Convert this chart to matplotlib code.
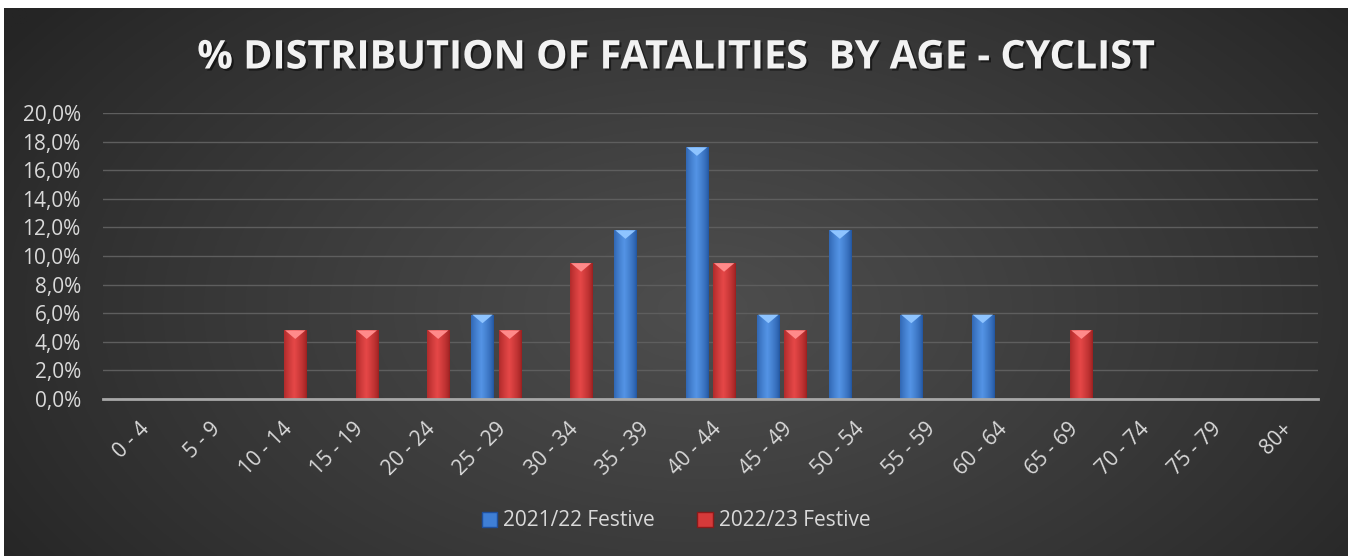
import numpy as np
import matplotlib
matplotlib.use("Agg")
import matplotlib.pyplot as plt
import matplotlib.patheffects as pe
from matplotlib.patches import Polygon, Patch
from matplotlib.ticker import FuncFormatter, MultipleLocator

age_groups = ["0 - 4", "5 - 9", "10 - 14", "15 - 19", "20 - 24", "25 - 29",
              "30 - 34", "35 - 39", "40 - 44", "45 - 49", "50 - 54", "55 - 59",
              "60 - 64", "65 - 69", "70 - 74", "75 - 79", "80+"]
festive_2122 = [0, 0, 0, 0, 0, 5.9, 0, 11.8, 17.6, 5.9, 11.8, 5.9, 5.9, 0, 0, 0, 0]
festive_2223 = [0, 0, 4.8, 4.8, 4.8, 4.8, 9.5, 0, 9.5, 4.8, 0, 0, 0, 4.8, 0, 0, 0]

text_col = "#d9d9d9"
fig = plt.figure(figsize=(13.52, 5.56), dpi=100, facecolor="white")

# dark radial background panel
bg = fig.add_axes([4 / 1352, 0, 1 - 8 / 1352, 1 - 8 / 556])
bg.set_axis_off()
yy, xx = np.mgrid[0:1:300j, 0:1:700j]
r = np.sqrt(((xx - 0.52) / 0.62) ** 2 + ((yy - 0.45) / 0.9) ** 2)
shade = np.clip(1 - r, 0, 1)
c0 = np.array([0x25, 0x25, 0x25]) / 255
c1 = np.array([0x4e, 0x4e, 0x4e]) / 255
img = c0 + (c1 - c0) * shade[..., None] ** 0.9
bg.imshow(img, aspect="auto", extent=[0, 1, 0, 1], origin="lower")
bg.set_xlim(0, 1)
bg.set_ylim(0, 1)

ax = fig.add_axes([103 / 1352, 1 - 399 / 556, 1215 / 1352, 286 / 556])
ax.patch.set_alpha(0)
x = np.arange(len(age_groups))
w = 0.31
ax.set_xlim(-0.5, len(age_groups) - 0.5)
ax.set_ylim(0, 20)


def shaded_bars(xpos, vals, dark, mid, light, top):
    bars = ax.bar(xpos, vals, width=w, color=mid, zorder=3)
    grad = np.linspace(0, 1, 64)
    prof = np.clip(1 - np.abs(grad - 0.45) / 0.55, 0, 1) ** 0.7
    dark, light = np.array(dark), np.array(light)
    strip = dark + (light - dark) * prof[:, None]
    for b in bars:
        h = b.get_height()
        if h <= 0:
            continue
        x0, bw = b.get_x(), b.get_width()
        im = ax.imshow(strip[None, :, :], aspect="auto",
                       extent=[x0, x0 + bw, 0, h], zorder=4)
        im.set_clip_path(b)
        th = 0.6
        tri = Polygon([(x0 + 0.04 * bw, h), (x0 + 0.96 * bw, h),
                       (x0 + bw / 2, h - th)], closed=True,
                      facecolor=top, edgecolor="none", zorder=5)
        ax.add_patch(tri)
    return bars


shaded_bars(x - 0.19, festive_2122, (0.13, 0.33, 0.62), "#3f7fd6",
            (0.33, 0.58, 0.90), "#8ec4ff")
shaded_bars(x + 0.19, festive_2223, (0.60, 0.12, 0.12), "#d63a3a",
            (0.90, 0.28, 0.28), "#ff8a8a")

ax.yaxis.set_major_locator(MultipleLocator(2))
ax.yaxis.set_major_formatter(FuncFormatter(lambda v, p: f"{v:.1f}%".replace(".", ",")))
ax.grid(axis="y", color="#5e5e5e", lw=1, zorder=0)
ax.set_axisbelow(True)
for s in ["top", "right", "left"]:
    ax.spines[s].set_visible(False)
ax.spines["bottom"].set_color("#a8a8a8")
ax.spines["bottom"].set_linewidth(2)
ax.spines["bottom"].set_zorder(6)
ax.tick_params(axis="both", length=0, colors=text_col)
ax.tick_params(axis="y", pad=16)
ax.set_xticks(x)
ax.set_xticklabels(age_groups, rotation=45, ha="right", va="top",
                   rotation_mode="anchor")
ax.tick_params(axis="x", pad=14)
for lab in ax.get_xticklabels() + ax.get_yticklabels():
    lab.set_family("Open Sans")
    lab.set_fontsize(15)

fig.text(0.5, 1 - 58 / 556, "% DISTRIBUTION OF FATALITIES  BY AGE - CYCLIST",
         ha="center", va="center", color="#f2f2f2", fontsize=28.5,
         fontweight="bold", family="Open Sans",
         path_effects=[pe.withSimplePatchShadow(offset=(1.5, -1.5),
                                                shadow_rgbFace="black", alpha=0.5)])

handles = [Patch(facecolor="#3f7fd6", edgecolor="#1f4f9c", label="2021/22 Festive"),
           Patch(facecolor="#d63a3a", edgecolor="#8b1a1a", label="2022/23 Festive")]
fig.legend(handles=handles, loc="center", bbox_to_anchor=(0.5, 1 - 521 / 556),
           ncol=2, frameon=False, handlelength=0.75, handleheight=0.75,
           handletextpad=0.3, columnspacing=2.0,
           prop={"family": "Open Sans", "size": 15}, labelcolor=text_col)

fig.savefig("out.png", dpi=100, facecolor="white")
